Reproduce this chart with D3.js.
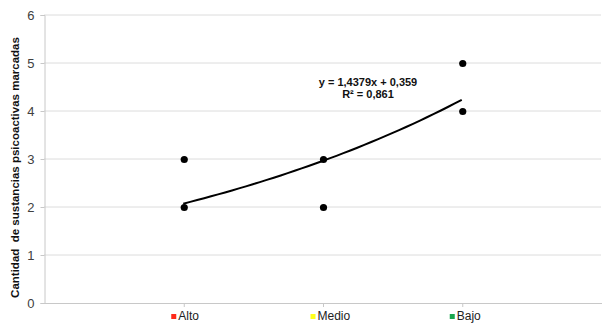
<!DOCTYPE html>
<html>
<head>
<meta charset="utf-8">
<script src="https://cdn.jsdelivr.net/npm/d3@7"></script>
<style>
  body { margin: 0; background: #fff; }
  svg { display: block; font-family: "Liberation Sans", Arial, sans-serif; }
</style>
</head>
<body>
<div id="chart"></div>
<script>
// Data
const categories = ['Alto', 'Medio', 'Bajo']
const categoryColors = ['#ff2a1a', '#ffff1a', '#1aa64d']
const pointX = [1, 1, 2, 2, 3, 3]
const pointY = [3, 2, 3, 2, 5, 4]
const yTicks = [0, 1, 2, 3, 4, 5, 6]

// Trend line as labelled in the chart (exponential fit a * e^(b x))
const trendA = 1.4379
const trendB = 0.359
const trendLabel = ['y = 1,4379x + 0,359', 'R² = 0,861']

const width = 607
const height = 327
const margin = { top: 14.5, right: 6, bottom: 24.5, left: 44 }

const svg = d3.select('#chart')
  .append('svg')
  .attr('width', width)
  .attr('height', height)

const x = d3.scaleLinear()
  .domain([0, 4])
  .range([margin.left, width - margin.right])

const y = d3.scaleLinear()
  .domain([0, 6])
  .range([height - margin.bottom, margin.top])

// Gridlines
svg.append('g')
  .selectAll('line')
  .data(yTicks.slice(1))
  .join('line')
  .attr('x1', x(0))
  .attr('x2', x(4))
  .attr('y1', d => y(d) + 0.5)
  .attr('y2', d => y(d) + 0.5)
  .attr('stroke', '#dcdcdc')
  .attr('stroke-width', 1)

// Y axis
const yAxis = svg.append('g')
  .attr('transform', `translate(${x(0) + 0.5},0.5)`)
  .call(d3.axisLeft(y).tickValues(yTicks).tickFormat(d3.format('d')).tickSize(4).tickPadding(6))
yAxis.select('.domain').attr('stroke', '#c8c8c8')
yAxis.selectAll('.tick line').attr('stroke', '#c8c8c8')
yAxis.selectAll('.tick text')
  .attr('fill', '#404040')
  .style('font-size', '13px')
  .style('font-family', '"Liberation Sans", Arial, sans-serif')

// X axis (ticks only at the categories)
const xAxis = svg.append('g')
  .attr('transform', `translate(0.5,${y(0) + 0.5})`)
  .call(d3.axisBottom(x).tickValues([1, 2, 3]).tickSize(4).tickSizeOuter(0).tickFormat(''))
xAxis.select('.domain').attr('stroke', '#c8c8c8')
xAxis.selectAll('.tick line').attr('stroke', '#c8c8c8')

// Legend under each category tick
const legend = svg.append('g')
  .selectAll('g')
  .data(categories)
  .join('g')
  .attr('transform', (d, i) => `translate(${x(i + 1)},${height - 7})`)
legend.append('rect')
  .attr('x', -12)
  .attr('y', -6)
  .attr('width', 5)
  .attr('height', 5)
  .attr('fill', (d, i) => categoryColors[i])
legend.append('text')
  .attr('x', -5)
  .attr('y', 0)
  .attr('fill', '#222')
  .style('font-size', '12px')
  .text(d => d)

// Trend curve
const curveX = d3.range(1, 3.0001, 0.05)
svg.append('path')
  .datum(curveX)
  .attr('fill', 'none')
  .attr('stroke', '#000')
  .attr('stroke-width', 2)
  .attr('d', d3.line()
    .x(d => x(d))
    .y(d => y(trendA * Math.exp(trendB * d)))
    .curve(d3.curveMonotoneX))

// Points
svg.append('g')
  .selectAll('circle')
  .data(pointX)
  .join('circle')
  .attr('cx', d => x(d) + 1)
  .attr('cy', (d, i) => y(pointY[i]) + 1)
  .attr('r', 3.6)
  .attr('fill', '#000')

// Trend equation
svg.append('text')
  .attr('x', 368)
  .attr('y', 86)
  .attr('text-anchor', 'middle')
  .attr('fill', '#111')
  .style('font-size', '11px')
  .style('font-weight', 'bold')
  .selectAll('tspan')
  .data(trendLabel)
  .join('tspan')
  .attr('x', 368)
  .attr('dy', (d, i) => i === 0 ? 0 : 12)
  .text(d => d)

// Y axis title
svg.append('text')
  .attr('transform', `translate(19,${(y(0) + y(6)) / 2 + 9}) rotate(-90)`)
  .attr('text-anchor', 'middle')
  .attr('fill', '#111')
  .style('font-size', '11.5px')
  .style('font-weight', 'bold')
  .style('white-space', 'pre')
  .text('Cantidad  de sustancias psicoactivas marcadas')
</script>
</body>
</html>
